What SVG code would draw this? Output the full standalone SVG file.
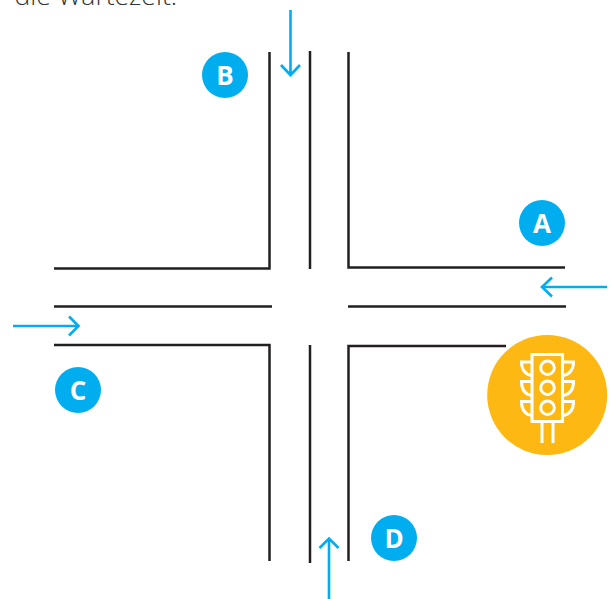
<svg xmlns="http://www.w3.org/2000/svg" width="611" height="599" viewBox="0 0 611 599">
<style>
.road{fill:none;stroke:#231f20;stroke-width:2.5}
.arrow{fill:none;stroke:#00aeef;stroke-width:2.6}
.badge{fill:#00aeef}
.lbl{font-family:"Open Sans","Noto Sans",sans-serif;font-weight:700;font-size:26px;fill:#fff;text-anchor:middle}
.tl{fill:none;stroke:#fff;stroke-width:3}
</style>
<rect width="611" height="599" fill="#fff"/>
<text x="14.500" y="4.500" font-family="'Open Sans','Noto Sans',sans-serif" font-weight="300" font-size="26.500" fill="#333">die Wartezeit.</text>
<g id="connectors">
<g id="roads">
<path class="road" d="M269.500 52V268.500H54"/>
<path class="road" d="M310 51V269"/>
<path class="road" d="M348.500 52V267.500H565"/>
<path class="road" d="M54 306.500H272"/>
<path class="road" d="M348 306.500H566"/>
<path class="road" d="M54 345H269.500V561"/>
<path class="road" d="M310 345V563"/>
<path class="road" d="M506 346H348.500V561"/>
</g>
<g id="arrows">
<path class="arrow" d="M290.500 10V75M281 65L290.500 75L300 65"/>
<path class="arrow" d="M607 287H542M552 277.500L542 287L552 296.500"/>
<path class="arrow" d="M13 326H78.500M69 316.500L78.500 326L69 335.500"/>
<path class="arrow" d="M329 599V539M319.500 548L329 538.500L338.500 548"/>
</g>
</g>
<g id="node-a"><circle class="badge" cx="542" cy="223" r="23"/><text class="lbl" x="542" y="232.500">A</text></g>
<g id="node-b"><circle class="badge" cx="225" cy="75" r="23"/><text class="lbl" x="225" y="84.500">B</text></g>
<g id="node-c"><circle class="badge" cx="78" cy="390" r="23"/><text class="lbl" x="78" y="399.500">C</text></g>
<g id="node-d"><circle class="badge" cx="394" cy="538" r="23"/><text class="lbl" x="394" y="547.500">D</text></g>
<g id="traffic-light">
<circle cx="547.200" cy="395" r="60" fill="#fdb813"/>
<rect class="tl" x="532" y="354.500" width="30.500" height="67"/>
<circle class="tl" cx="547.500" cy="367.700" r="6.800"/>
<circle class="tl" cx="547.500" cy="387.700" r="6.800"/>
<circle class="tl" cx="547.500" cy="407.700" r="6.800"/>
<path class="tl" d="M542 421.500V443M553 421.500V443"/>
<path class="tl" d="M532 362H521.500C521.500 369 525 374.500 532 375.500M532 381.500H521.500C521.500 389 525 394.500 532 395.500M532 401.500H521.500C521.500 409 525 414.500 532 415.500"/>
<path class="tl" d="M562.500 362H573.500C573.500 369 570 374.500 562.500 375.500M562.500 381.500H573.500C573.500 389 570 394.500 562.500 395.500M562.500 401.500H573.500C573.500 409 570 414.500 562.500 415.500"/>
</g>
</svg>
